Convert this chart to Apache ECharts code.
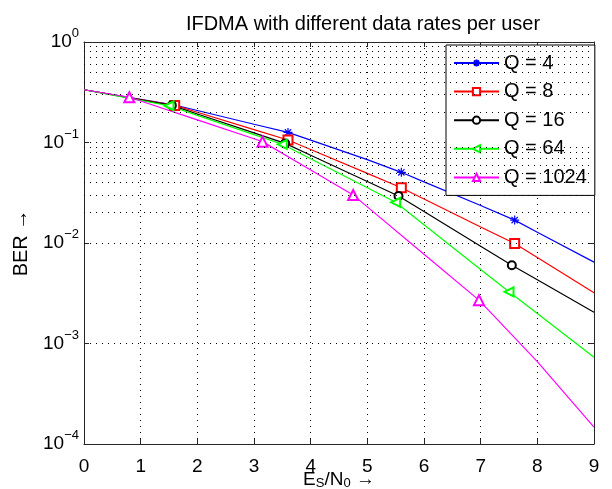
<!DOCTYPE html>
<html>
<head>
<meta charset="utf-8">
<script src="https://cdn.jsdelivr.net/npm/echarts@6/dist/echarts.min.js"></script>
<style>
html, body { margin: 0; padding: 0; background: #fff; }
#main { width: 612px; height: 489px; }
</style>
</head>
<body>
<div id="main"></div>
<script>
var myChart = echarts.init(document.getElementById('main'));

// Es/N0 grid for the curves
var esn0 = [0, 1, 2, 3, 4, 5, 6, 7, 8, 9];
var names = ['Q = 4', 'Q = 8', 'Q = 16', 'Q = 64', 'Q = 1024'];
var colors = ['#0000ff', '#ff0000', '#000000', '#00ff00', '#ff00ff'];

// BER values
var berQ4    = [0.335, 0.269, 0.208, 0.152, 0.1056, 0.0676, 0.0406, 0.0236, 0.0128, 0.00645];
var berQ8    = [0.335, 0.268, 0.200, 0.1344, 0.0851, 0.0493, 0.0274, 0.01443, 0.00717, 0.0032];
var berQ16   = [0.335, 0.266, 0.192, 0.1245, 0.0747, 0.0409, 0.02056, 0.00929, 0.00431, 0.00205];
var berQ64   = [0.335, 0.262, 0.186, 0.1197, 0.0688, 0.0354, 0.01522, 0.00546, 0.00199, 0.00073];
var berQ1024 = [0.335, 0.2585, 0.168, 0.1089, 0.0533, 0.02287, 0.00773, 0.00259, 0.000659, 0.000147];

// marker points
var markXQ4 = [1.6, 3.6, 5.6, 7.6],      markBerQ4 = [0.236, 0.126, 0.0505, 0.0169];
var markXQ8 = [1.6, 3.6, 5.6, 7.6],      markBerQ8 = [0.234, 0.106, 0.0355, 0.0099];
var markXQ16 = [1.55, 3.55, 5.55, 7.55], markBerQ16 = [0.234, 0.098, 0.0294, 0.0060];
var markXQ64 = [1.5, 3.5, 5.5, 7.5],     markBerQ64 = [0.232, 0.096, 0.0254, 0.00327];
var markXQ1024 = [0.8, 3.15, 4.75, 6.97], markBerQ1024 = [0.282, 0.102, 0.030, 0.0027];

// minor grid values of the log axis
var minorBer = [];
[1e-4, 1e-3, 1e-2, 1e-1].forEach(function (d) {
    for (var k = 2; k <= 9; k++) minorBer.push(+(d * k).toPrecision(3));
});

var curves = [berQ4, berQ8, berQ16, berQ64, berQ1024];
var markX = [markXQ4, markXQ8, markXQ16, markXQ64, markXQ1024];
var markBer = [markBerQ4, markBerQ8, markBerQ16, markBerQ64, markBerQ1024];
var symbols = [
    'path://M5,0L5,10M0,5L10,5M1.5,1.5L8.5,8.5M8.5,1.5L1.5,8.5',
    'emptyRect', 'emptyCircle', 'emptyTriangle', 'emptyTriangle'
];
var symbolSizes = [9, 9, 8, 9, 10];
var rotates = [0, 0, 0, 90, 0];

var FONT = 'Liberation Sans, Arial, sans-serif';
var dotted = { color: '#000', width: 1, type: [1, 5] };

function buildData(i) {
    var pts = [];
    esn0.forEach(function (x, j) {
        pts.push({ value: [x, curves[i][j]], symbol: 'none' });
    });
    markX[i].forEach(function (x, j) {
        pts.push({ value: [x, markBer[i][j]] });
    });
    pts.sort(function (a, b) { return a.value[0] - b.value[0]; });
    return pts;
}

var series = names.map(function (name, i) {
    var s = {
        name: name,
        type: 'line',
        xAxisIndex: 0,
        yAxisIndex: 0,
        data: buildData(i),
        symbol: symbols[i],
        symbolSize: symbolSizes[i],
        symbolRotate: rotates[i],
        showAllSymbol: true,
        color: colors[i],
        lineStyle: { color: colors[i], width: 1.2 },
        itemStyle: { color: colors[i], borderColor: colors[i], borderWidth: 1.2 },
        emphasis: { disabled: true },
        z: 3
    };
    if (i === 0) {
        s.markLine = {
            silent: true,
            symbol: ['none', 'none'],
            label: { show: false },
            lineStyle: dotted,
            emphasis: { disabled: true },
            data: minorBer.map(function (v) { return { yAxis: v }; })
        };
    }
    return s;
});

function pow10Label(value) {
    var e = Math.round(Math.log(value) / Math.LN10);
    return '{b|10}{s|' + String(e).replace('-', '\u2212') + '}';
}

var frameLine = { show: true, onZero: false, lineStyle: { color: '#262626', width: 1 } };
var frameTick = { show: true, inside: true, length: 5, lineStyle: { color: '#262626' } };

option = {
    animation: false,
    backgroundColor: '#fff',
    title: {
        text: 'IFDMA with different data rates per user',
        left: 358,
        top: 9,
        textAlign: 'center',
        textStyle: { fontFamily: FONT, fontSize: 20, fontWeight: 'normal', color: '#000' }
    },
    legend: {
        orient: 'vertical',
        left: 446,
        top: 45,
        data: names,
        itemWidth: 45,
        itemHeight: 9,
        itemGap: 8.6,
        padding: [8, 8, 8, 7],
        backgroundColor: '#fff',
        borderColor: '#000',
        borderWidth: 1,
        borderRadius: 0,
        textStyle: { fontFamily: FONT, fontSize: 20, color: '#000', lineHeight: 20 },
        selectedMode: false
    },
    grid: { left: 84, right: 18, top: 42, bottom: 45, containLabel: false, outerBoundsMode: 'none' },
    xAxis: [
        {
            type: 'value', min: 0, max: 9, interval: 1, position: 'bottom',
            axisLine: frameLine, axisTick: frameTick,
            axisLabel: { color: '#000', fontFamily: FONT, fontSize: 19, margin: 13 },
            splitLine: { show: true, lineStyle: dotted },
            name: '{m|E}{sub|S}{m|/N}{sub|0}{m| \u2192}',
            nameLocation: 'middle',
            nameGap: 26,
            nameMoveOverlap: false,
            nameTextStyle: {
                rich: {
                    m: { fontFamily: FONT, fontSize: 19, color: '#000', lineHeight: 20, verticalAlign: 'top' },
                    sub: { fontFamily: FONT, fontSize: 13, color: '#000', lineHeight: 13, padding: [11, 0, 0, 0], verticalAlign: 'bottom' }
                }
            }
        },
        {
            type: 'value', min: 0, max: 9, interval: 1, position: 'top',
            axisLine: frameLine, axisTick: frameTick,
            axisLabel: { show: false }, splitLine: { show: false }
        }
    ],
    yAxis: [
        {
            type: 'log', logBase: 10, min: 1e-4, max: 1, position: 'left',
            axisLine: frameLine, axisTick: frameTick,
            axisLabel: {
                margin: 5,
                formatter: pow10Label,
                rich: {
                    b: { fontFamily: FONT, fontSize: 19, color: '#000', lineHeight: 30 },
                    s: { fontFamily: FONT, fontSize: 13, color: '#000', lineHeight: 13, verticalAlign: 'top' }
                }
            },
            splitLine: { show: true, lineStyle: dotted },
            name: 'BER \u2192',
            nameLocation: 'middle',
            nameGap: 53,
            nameMoveOverlap: false,
            nameTextStyle: { fontFamily: FONT, fontSize: 20, color: '#000' }
        },
        {
            type: 'log', logBase: 10, min: 1e-4, max: 1, position: 'right',
            axisLine: frameLine, axisTick: frameTick,
            axisLabel: { show: false }, splitLine: { show: false }
        }
    ],
    series: series
};

myChart.setOption(option);
</script>
</body>
</html>
